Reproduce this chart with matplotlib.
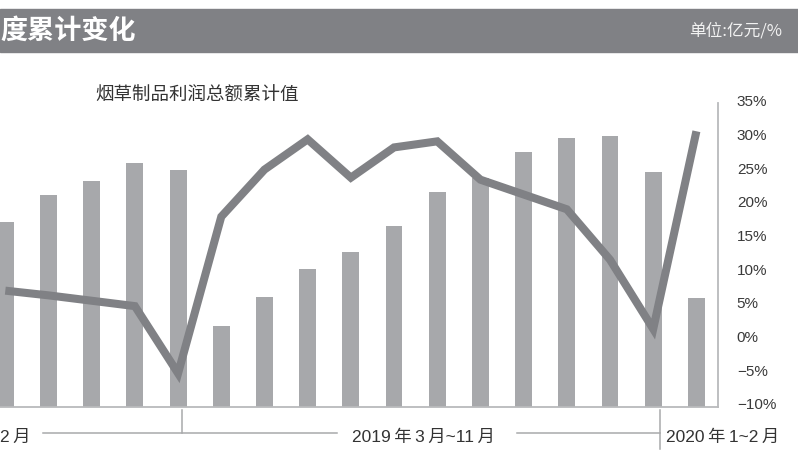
import numpy as np
import matplotlib
matplotlib.use('Agg')
import matplotlib.pyplot as plt
from matplotlib.patches import Rectangle
from matplotlib.lines import Line2D

plt.rcParams['font.family'] = ['Liberation Sans', 'Noto Sans CJK SC']

# data: 2018 Aug-Dec, 2019 1~2 .. Dec, 2020 1~2
months = ['2018-08', '2018-09', '2018-10', '2018-11', '2018-12',
          '2019-02', '2019-03', '2019-04', '2019-05', '2019-06', '2019-07',
          '2019-08', '2019-09', '2019-10', '2019-11', '2019-12', '2020-02']
profit = [740, 848, 904, 976, 948,
          324, 440, 552, 620, 724, 860, 916, 1020, 1076, 1084, 940,
          436]
growth = [6.8, 6.1, 5.3, 4.5, -5.5,
          17.8, 24.8, 29.3, 23.6, 28.1, 29.0, 23.3, 21.1, 18.9, 11.4, 1.1,
          30.5]
pct_ticks = [-10, -5, 0, 5, 10, 15, 20, 25, 30, 35]
group_labels = ['2\u2009月', '2019\u2009年\u20093\u2009月~11\u2009月', '2020\u2009年\u20091~2\u2009月']

W, H = 798, 472
fig = plt.figure(figsize=(W / 100, H / 100), dpi=100)

def fx(px):
    return px / W

def fy(py):
    return (H - py) / H

# header band
fig.patches.append(Rectangle((0, fy(52)), 1, 43 / H, transform=fig.transFigure,
                             color='#808185', zorder=0))
fig.text(fx(0), fy(30.5), '度累计变化', color='white', fontsize=19.5,
         fontweight='black', family=['Noto Sans CJK SC'], ha='left', va='center')
fig.text(fx(782), fy(31), '单位:亿元/%', color='#f2f2f2', fontsize=12,
         family=['Noto Sans CJK SC'], ha='right', va='center')

# plot area
ax = fig.add_axes([0, fy(407), fx(718), 306 / H])
x = np.arange(len(months))
ax.bar(x, profit, width=0.39, color='#a7a8ab', zorder=2)
ax.set_xlim(-0.123, 16.5)
ax.set_ylim(0, 1224)
ax.set_xticks([])
ax.set_yticks([])
for s in ['top', 'left', 'right']:
    ax.spines[s].set_visible(False)
ax.spines['bottom'].set_color('#b9babc')
ax.spines['bottom'].set_linewidth(1.3)

ax2 = ax.twinx()
ax2.plot(x, growth, color='#808185', lw=5.8, solid_joinstyle='miter',
         solid_capstyle='butt', zorder=3)
ax2.set_ylim(-10.5, 35)
ax2.set_yticks(pct_ticks)
ax2.set_yticklabels([('−%d%%' % -v) if v < 0 else ('%d%%' % v) for v in pct_ticks])
ax2.tick_params(axis='y', length=0, pad=13.5, labelsize=11, labelcolor='#3a3a3a')
for s in ['top', 'left', 'bottom']:
    ax2.spines[s].set_visible(False)
ax2.spines['right'].set_color('#b9babc')
ax2.spines['right'].set_linewidth(1.3)
ax2.spines['right'].set_bounds(-10.5, 34.7)

fig.text(fx(95), fy(96), '烟草制品利润总额累计值', fontsize=13.3, color='#333333',
         family=['Noto Sans CJK SC'], ha='left', va='center')

# group brackets under the axis
lc = '#a8a9ab'
for x0, x1 in [(43, 337), (517, 660)]:
    fig.add_artist(Line2D([fx(x0), fx(x1)], [fy(433), fy(433)], color=lc, lw=1.1))
fig.add_artist(Line2D([fx(182), fx(182)], [fy(410), fy(433)], color=lc, lw=1.1))
fig.add_artist(Line2D([fx(660), fx(660)], [fy(410), fy(449)], color=lc, lw=1.1))

for lab, px in zip(group_labels, [0, 352, 666]):
    fig.text(fx(px), fy(437), lab, fontsize=12.5, color='#333333',
             ha='left', va='center')

fig.savefig('out.png', dpi=100)
